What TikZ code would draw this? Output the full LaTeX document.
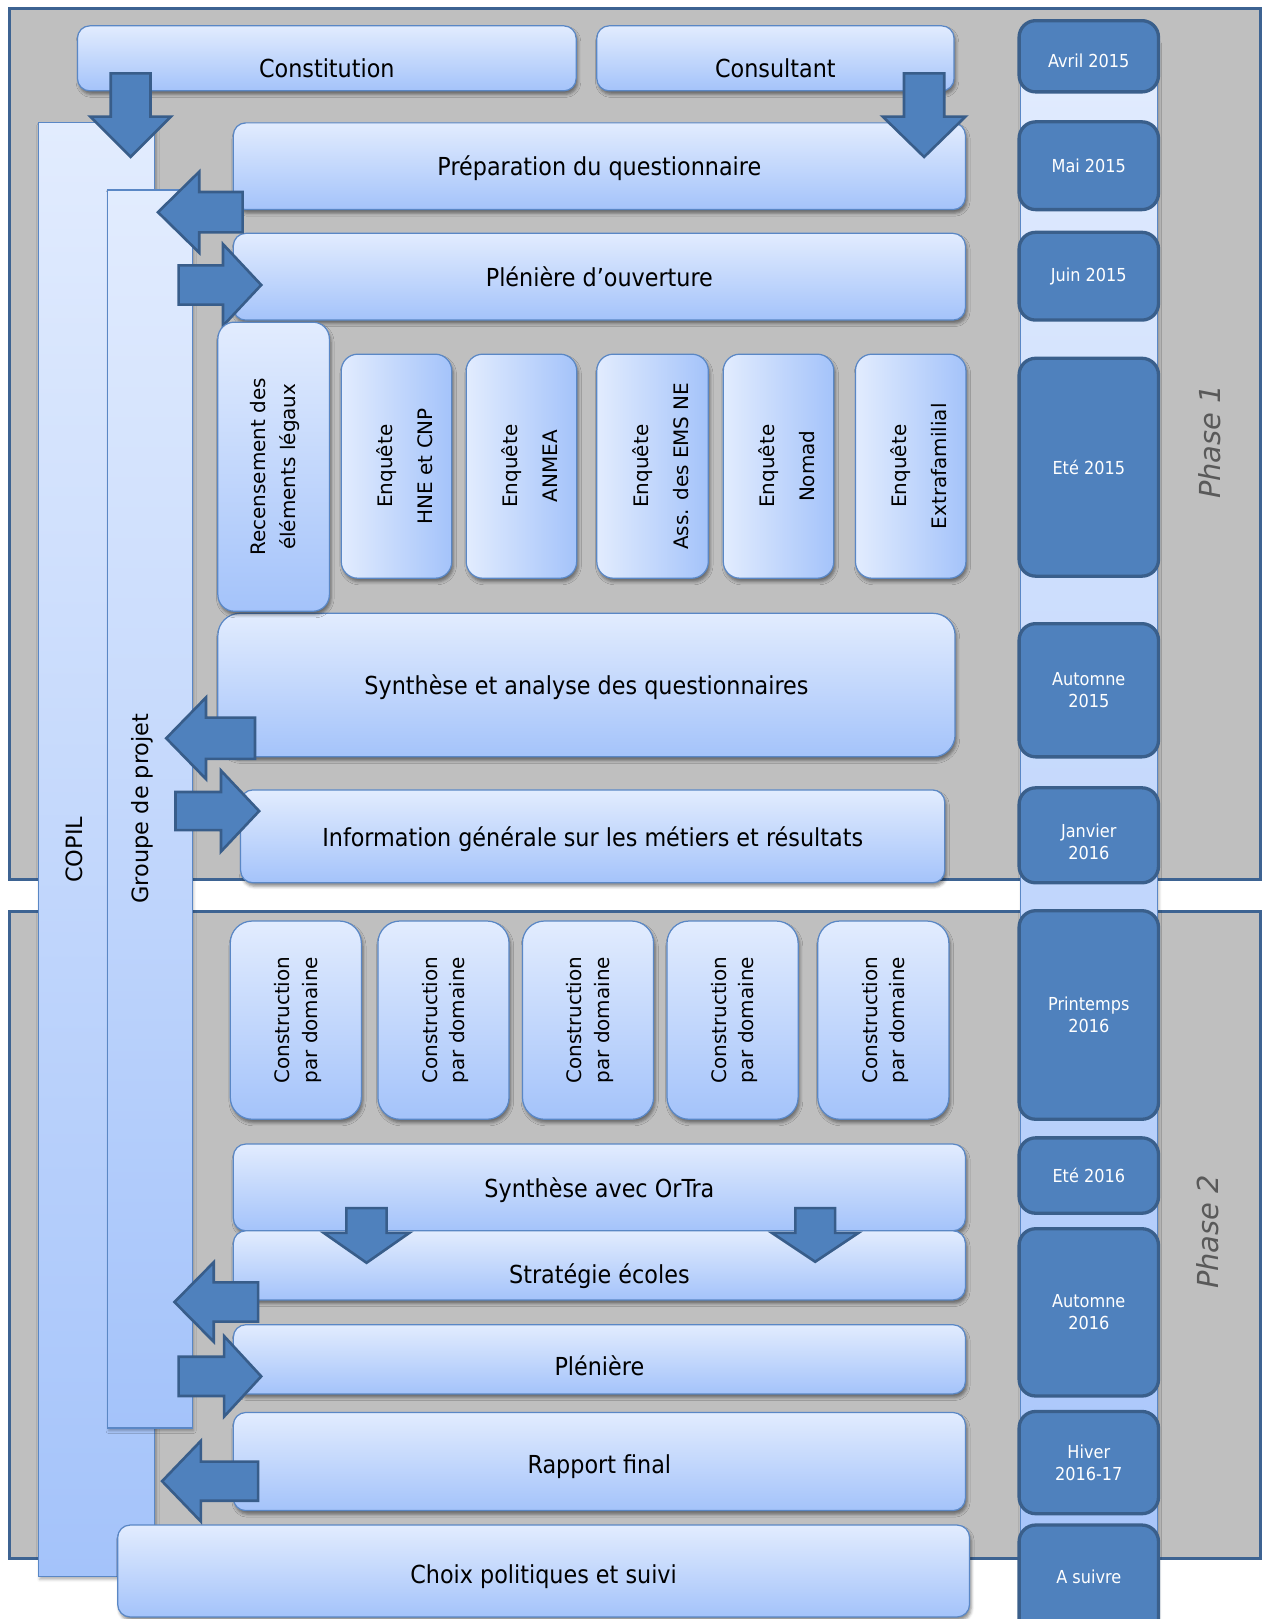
\documentclass[tikz,border=0pt]{standalone}
\usepackage{fontspec}
\setmainfont{DejaVu Sans}
\newfontfamily\tahfont{DejaVu Sans Condensed}
\usetikzlibrary{shadows.blur}

\definecolor{framegray}{HTML}{BFBFBF}
\definecolor{frameline}{HTML}{3D6392}
\definecolor{boxtop}{HTML}{E2ECFE}
\definecolor{boxbot}{HTML}{A4C3FA}
\definecolor{boxline}{HTML}{5A87C5}
\definecolor{datefill}{HTML}{4F81BD}
\definecolor{dateline}{HTML}{3A5F8B}
\definecolor{arrowfill}{HTML}{4F81BD}
\definecolor{arrowline}{HTML}{385D8A}
\definecolor{phasegray}{HTML}{595959}

\tikzset{
  sz/.style 2 args={minimum width=#1*0.75pt, minimum height=#2*0.75pt, inner sep=0pt},
  frame/.style={rectangle, fill=framegray, draw=frameline, line width=2.3pt},
  vbar/.style={rectangle, draw=boxline, line width=0.8pt, top color=boxtop, bottom color=boxbot,
     blur shadow={shadow xshift=1pt, shadow yshift=-2pt, shadow blur radius=2pt, shadow opacity=30}},
  lbox/.style={rectangle, draw=boxline, line width=0.9pt, top color=boxtop, bottom color=boxbot,
     rounded corners=9pt,
     blur shadow={shadow xshift=1.2pt, shadow yshift=-2.6pt, shadow blur radius=2.2pt, shadow opacity=45}},
  lboxh/.style={lbox, left color=boxtop, right color=boxbot, rounded corners=12pt},
  lboxv/.style={lbox, rounded corners=12pt},
  btext/.style={font=\tahfont\fontsize{18}{21}\selectfont, text=black, inner sep=0pt},
  rtext/.style={font=\fontsize{14.5}{17}\selectfont, text=black, rotate=90, align=center, inner sep=0pt},
  barlabel/.style={font=\fontsize{16.3}{19}\selectfont, text=black, rotate=90, inner sep=0pt},
  phaselabel/.style={font=\itshape\fontsize{21}{25}\selectfont, text=phasegray, rotate=90, inner sep=0pt},
  datebox/.style={rectangle, fill=datefill, draw=dateline, line width=2.4pt, rounded corners=12pt,
     text=white, align=center, font=\tahfont\fontsize{13}{16}\selectfont},
  datetext/.style={text=white, align=center, font=\tahfont\fontsize{13}{16}\selectfont, inner sep=0pt},
  barrow/.style={fill=arrowfill, draw=arrowline, line width=1.9pt, line join=miter}
}

% box with its text: style, name, cx, cy, w, h, text, text drop (px)
\newcommand\tbox[8]{%
  \node[#1, sz={#5}{#6}] (#2) at (#3,#4) {};
  \node[btext] (#2-t) at ([yshift=-#8*0.75pt]#2.center) {#7};}
% block arrow: tip x, tip y, angle, length, head length, shaft width, head half width
\newcommand\blockarrow[7]{%
  \draw[barrow, shift={(#1,#2)}, rotate=#3] (0,0) -- (-#5,#7) -- (-#5,#6/2) -- (-#4,#6/2)
     -- (-#4,-#6/2) -- (-#5,-#6/2) -- (-#5,-#7) -- cycle;}

\begin{document}
\begin{tikzpicture}[x=0.75pt,y=-0.75pt]
\useasboundingbox (0,0) rectangle (1227,1568);
\clip (0,0) rectangle (1227,1568);

% phase frames
\node[frame, sz={1212}{844}] (phase1) at (615,430) {};
\node[frame, sz={1212}{626}] (phase2) at (615,1196) {};
\node[phaselabel] (phase1-t) at (1172,428) {Phase 1};
\node[phaselabel] (phase2-t) at (1170,1193) {Phase 2};

% timeline column
\node[vbar, sz={133}{1560}] (timeline) at (1054.5,820) {};

% COPIL and Groupe de projet
\node[vbar, sz={113}{1408}] (copil) at (93.5,823) {};
\node[barlabel] (copil-t) at (72,823) {COPIL};
\node[vbar, sz={82}{1199}] (groupe) at (145,783.5) {};
\node[barlabel] (groupe-t) at (138,783) {Groupe de projet};

% dates
\node[datebox, sz={135}{69}] (d1) at (1054.5,54.5) {};
\node[datetext] (d1-t) at (1054.5,59) {Avril 2015};
\node[datebox, sz={135}{85}] (d2) at (1054.5,160.5) {Mai 2015};
\node[datebox, sz={135}{85}] (d3) at (1054.5,267.5) {Juin 2015};
\node[datebox, sz={135}{211}] (d4) at (1054.5,452.5) {Eté 2015};
\node[datebox, sz={135}{129}] (d5) at (1054.5,668.5) {Automne\\2015};
\node[datebox, sz={135}{92}] (d6) at (1054.5,809) {};
\node[datetext] (d6-t) at (1054.5,815) {Janvier\\2016};
\node[datebox, sz={135}{202}] (d7) at (1054.5,983) {Printemps\\2016};
\node[datebox, sz={135}{73}] (d8) at (1054.5,1138.5) {Eté 2016};
\node[datebox, sz={135}{162}] (d9) at (1054.5,1271) {Automne\\2016};
\node[datebox, sz={135}{99}] (d10) at (1054.5,1416.5) {Hiver\\2016-17};
\node[datebox, sz={135}{123}] (d11) at (1054.5,1538.5) {};
\node[datetext] (d11-t) at (1054.5,1527) {A suivre};

% phase 1 boxes
\tbox{lbox}{constit}{316.5}{56.5}{483}{63}{Constitution}{9.5}
\tbox{lbox}{consult}{751}{56.5}{346}{63}{Consultant}{9.5}
\tbox{lbox}{prep}{580.5}{161}{709}{84}{Préparation du questionnaire}{2}
\tbox{lbox}{pleno}{580.5}{268}{709}{84}{Plénière d’ouverture}{0.5}

\node[lboxh, sz={107}{217}] (enq1) at (384,451.5) {};
\node[rtext] (enq1-t) at ([xshift=7.5*0.75pt]enq1.center) {Enquête\\[12pt]HNE et CNP};
\node[lboxh, sz={107}{217}] (enq2) at (505,451.5) {};
\node[rtext] (enq2-t) at ([xshift=7.5*0.75pt]enq2.center) {Enquête\\[12pt]ANMEA};
\node[lboxh, sz={108}{217}] (enq3) at (632,451.5) {};
\node[rtext] (enq3-t) at ([xshift=7.5*0.75pt]enq3.center) {Enquête\\[12pt]Ass. des EMS NE};
\node[lboxh, sz={107}{217}] (enq4) at (754,451.5) {};
\node[rtext] (enq4-t) at ([xshift=7.5*0.75pt]enq4.center) {Enquête\\[12pt]Nomad};
\node[lboxh, sz={107}{217}] (enq5) at (882,451.5) {};
\node[rtext] (enq5-t) at ([xshift=7.5*0.75pt]enq5.center) {Enquête\\[12pt]Extrafamilial};

\tbox{lbox, rounded corners=16pt}{synth}{568}{663.5}{714}{139}{Synthèse et analyse des questionnaires}{2}
\tbox{lbox}{info}{574}{810}{682}{90}{Information générale sur les métiers et résultats}{3}

% phase 2 boxes
\foreach \i/\cx in {1/286.5, 2/429.5, 3/569.5, 4/709.5, 5/855.5}{
  \node[lboxv, rounded corners=16pt, sz={127}{192}] (cons\i) at (\cx,988) {};
  \node[rtext] (cons\i-t) at ([xshift=2*0.75pt]cons\i.center) {Construction\\[3pt]par domaine};
}
\tbox{lbox}{ortra}{580.5}{1150}{709}{84}{Synthèse avec OrTra}{3}
\tbox{lbox}{strat}{580.5}{1225.5}{709}{67}{Stratégie écoles}{10.5}
\tbox{lbox}{plen}{580.5}{1316.5}{709}{67}{Plénière}{6.5}
\tbox{lbox}{rapport}{580.5}{1415.5}{709}{95}{Rapport final}{4.5}
\tbox{lbox}{choix}{526.5}{1521.5}{825}{89}{Choix politiques et suivi}{5}

% block arrows
\blockarrow{126.5}{152}{-90}{81}{39}{38.5}{39}
\blockarrow{895}{152}{-90}{81}{39}{39}{40}
\blockarrow{153}{205.5}{180}{82}{40}{39}{39.25}
\blockarrow{253}{276}{0}{80}{37}{38}{39.5}
\blockarrow{161}{715}{180}{86}{38.5}{40}{39.5}
\blockarrow{251}{785.5}{0}{81}{37}{37}{39.25}
\blockarrow{169}{1261}{180}{81}{38}{38}{38.5}
\blockarrow{253}{1333}{0}{80}{36}{38}{39}
\blockarrow{157}{1434.5}{180}{93}{37.5}{38}{39}
\blockarrow{355}{1223}{-90}{53}{29}{39}{41.5}
\blockarrow{789.5}{1222}{-90}{52}{28}{38.5}{42}

% Recensement box (over the arrow corner)
\node[lboxv, sz={108}{280}] (recens) at (265,452) {};
\node[rtext] (recens-t) at ([xshift=1.5*0.75pt]recens.center) {Recensement des\\[4.5pt]éléments légaux};
\end{tikzpicture}
\end{document}
